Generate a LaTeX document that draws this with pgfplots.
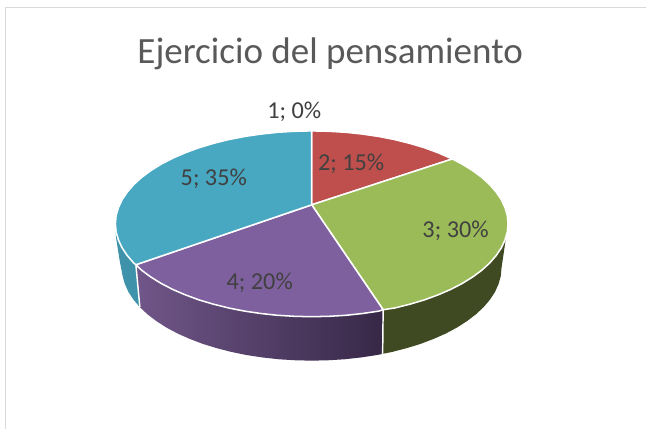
\documentclass[border=0pt]{standalone}
\usepackage{pgfplots}
\pgfplotsset{compat=1.18}
\usepackage{fontspec}
\setmainfont{Carlito}
\definecolor{cred}{HTML}{BE4F4C}
\definecolor{cgreen}{HTML}{9BBB59}
\definecolor{cpurple}{HTML}{7F609E}
\definecolor{cblue}{HTML}{48A8C2}
\definecolor{sgreen}{HTML}{3F4A22}
\definecolor{sblue}{HTML}{3E93AB}
\definecolor{spl}{HTML}{705689}
\definecolor{spr}{HTML}{372847}
\definecolor{frame}{HTML}{D9D9D9}
\definecolor{ttl}{HTML}{595959}
\definecolor{lbl}{HTML}{404040}
\begin{document}
\begin{tikzpicture}
\begin{axis}[
  scale only axis, width=485.25pt, height=321.75pt,
  xmin=0, xmax=647, ymin=0, ymax=429, y dir=reverse,
  axis lines=none, clip=false, ticks=none,
]
% page
\addplot[draw=none, fill=white] coordinates {(0,0) (647,0) (647,429) (0,429)} -- cycle;
% frame
\addplot[frame, line width=0.9pt] coordinates {(5.5,429) (5.5,7.5) (647,7.5)};
% side: slice 5
\addplot[draw=none, fill=sblue] coordinates {(115.5,224) (116,237) (120,262) (122.7,276.1) (124.9,284.1) (128.5,292.1) (133.5,299.8) (140,307.5) (136,265)} -- cycle;
% side: slice 4
\addplot[draw=none, left color=spl, right color=spr] coordinates {(136,265) (140,307.5) (147.5,314.5) (156.4,321.3) (166.5,327.8) (177.7,333.8) (189.9,339.2) (203,344.2) (217,348.5) (231.7,352.3) (247,355.4) (262.8,357.8) (279,359.6) (295.4,360.6) (312,361) (328.6,360.6) (345,359.6) (361.2,357.8) (377,355.4) (383,354.2) (383.5,310)} -- cycle;
% side: slice 3
\addplot[draw=none, fill=sgreen] coordinates {(508.5,224) (506.6,237) (502,268) (501.3,276.1) (499.1,284.1) (495.5,292.1) (490.5,299.8) (484.2,307.3) (476.5,314.5) (467.6,321.3) (457.5,327.8) (446.3,333.8) (434.1,339.2) (421,344.2) (407,348.5) (392.3,352.3) (383,354.2) (383.5,310)} -- cycle;
% seams
\addplot[white, line width=1.1pt] coordinates {(383.5,310) (383,354.2)};
\addplot[white, line width=1.1pt] coordinates {(136,265) (140,307.5)};
% top: slice 2
\addplot[draw=white, line width=1.15pt, line join=round, fill=cred] coordinates {(312,205) (312,131) (329.1,131.4) (346.1,132.4) (362.9,134.2) (379.2,136.6) (395,139.7) (410.25,143.5) (424.7,147.8) (438.3,152.8) (452.7,159.1)} -- cycle;
% top: slice 3
\addplot[draw=white, line width=1.15pt, line join=round, fill=cgreen] coordinates {(312,205) (452.7,159.1) (462.5,164.2) (473,170.7) (482.2,177.5) (490.1,184.7) (496.6,192.2) (501.8,199.9) (505.5,207.9) (507.8,215.9) (508.5,224) (507.8,232.1) (505.5,240.1) (501.8,248.1) (496.6,255.8) (490.1,263.3) (482.2,270.5) (473,277.3) (462.5,283.8) (450.9,289.8) (438.3,295.2) (424.7,300.2) (410.25,304.5) (395,308.3) (383.5,310)} -- cycle;
% top: slice 4
\addplot[draw=white, line width=1.15pt, line join=round, fill=cpurple] coordinates {(312,205) (383.5,310) (379.2,311.4) (362.9,313.8) (346.1,315.6) (329.1,316.6) (312,317) (294.9,316.6) (277.9,315.6) (261.1,313.8) (244.8,311.4) (229,308.3) (213.75,304.5) (199.3,300.2) (185.7,295.2) (173.1,289.8) (161.5,283.8) (151,277.3) (141.8,270.5) (136,265)} -- cycle;
% top: slice 5
\addplot[draw=white, line width=1.15pt, line join=round, fill=cblue] coordinates {(312,205) (136,265) (133.9,263.3) (127.4,255.8) (122.2,248.1) (118.5,240.1) (116.2,232.1) (115.5,224) (116.2,215.9) (118.5,207.9) (122.2,199.9) (127.4,192.2) (133.9,184.7) (141.8,177.5) (151,170.7) (161.5,164.2) (173.1,158.2) (185.7,152.8) (199.3,147.8) (213.75,143.5) (229,139.7) (244.8,136.6) (261.1,134.2) (277.9,132.4) (294.9,131.4) (312,131)} -- cycle;
% text
\node[text=ttl, font=\fontsize{27.8}{32}\selectfont, anchor=center] at (axis cs:330.5,54) {Ejercicio del pensamiento};
\node[text=lbl, font=\fontsize{18.2}{22}\selectfont] at (axis cs:294.5,111.5) {1; 0\%};
\node[text=lbl, font=\fontsize{18.2}{22}\selectfont] at (axis cs:351.5,163.5) {2; 15\%};
\node[text=lbl, font=\fontsize{18.2}{22}\selectfont] at (axis cs:456,231) {3; 30\%};
\node[text=lbl, font=\fontsize{18.2}{22}\selectfont] at (axis cs:260,283) {4; 20\%};
\node[text=lbl, font=\fontsize{18.2}{22}\selectfont] at (axis cs:214,179) {5; 35\%};
\end{axis}
\end{tikzpicture}
\end{document}
